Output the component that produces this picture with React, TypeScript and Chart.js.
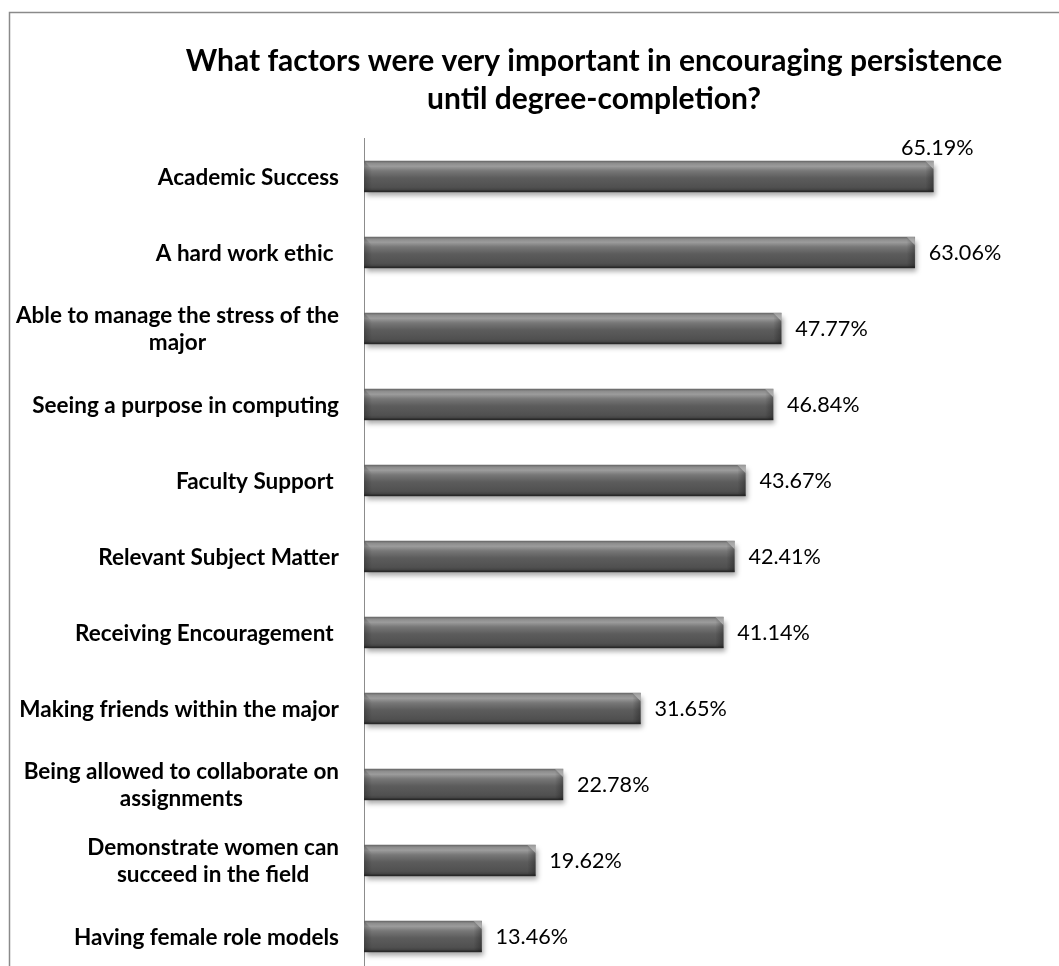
import React, { useEffect, useRef } from "react";
import { Chart, registerables } from "chart.js";

Chart.register(...registerables);

const TITLE_LINES = [
  "What factors were very important in encouraging persistence",
  "until degree-completion?",
];

const CATEGORIES: (string | string[])[] = [
  "Academic Success",
  "A hard work ethic ",
  ["Able to manage the stress of the", "major"],
  "Seeing a purpose in computing",
  "Faculty Support ",
  "Relevant Subject Matter",
  "Receiving Encouragement ",
  "Making friends within the major",
  ["Being allowed to collaborate on", "assignments"],
  ["Demonstrate women can", "succeed in the field"],
  "Having female role models",
];

const VALUES = [65.19, 63.06, 47.77, 46.84, 43.67, 42.41, 41.14, 31.65, 22.78, 19.62, 13.46];

const X_MAX = 75;

const FONT = "Lato, 'Open Sans', sans-serif";
const TITLE_SIZE = 30;
const LABEL_SIZE = 22.5;
const VALUE_SIZE = 21.6;
const BAR_H = 31;
const LABEL_RIGHT = 339;
const LINE_H = 26.5;

const framePlugin = {
  id: "frame",
  beforeDraw(chart: any) {
    const ctx = chart.ctx;
    ctx.save();
    ctx.fillStyle = "#ffffff";
    ctx.fillRect(0, 0, chart.width, chart.height);
    ctx.strokeStyle = "#8a8a8a";
    ctx.lineWidth = 1.5;
    ctx.strokeRect(9.5, 12.5, 3000, 3000);
    ctx.restore();
  },
};

const titlePlugin = {
  id: "titleText",
  afterDraw(chart: any) {
    const ctx = chart.ctx;
    ctx.save();
    ctx.font = `bold ${TITLE_SIZE}px ${FONT}`;
    ctx.fillStyle = "#000000";
    ctx.textAlign = "center";
    ctx.textBaseline = "alphabetic";
    TITLE_LINES.forEach((l, i) => {
      ctx.fillText(l, 594, 71 + i * 38);
    });
    ctx.restore();
  },
};

const shadowPlugin = {
  id: "barShadow",
  beforeDatasetsDraw(chart: any) {
    const ctx = chart.ctx;
    ctx.save();
    ctx.shadowColor = "rgba(0,0,0,0.35)";
    ctx.shadowBlur = 5;
    ctx.shadowOffsetX = 2;
    ctx.shadowOffsetY = 4;
  },
  afterDatasetsDraw(chart: any) {
    const ctx = chart.ctx;
    ctx.restore();
    const meta = chart.getDatasetMeta(0);
    const B = 8;
    ctx.save();
    meta.data.forEach((el: any) => {
      const p = el.getProps(["x", "y", "base", "height"], true);
      const left = Math.min(p.base, p.x);
      const right = Math.max(p.base, p.x);
      const top = p.y - p.height / 2;
      const bottom = p.y + p.height / 2;
      if (![left, right, top, bottom].every(Number.isFinite)) return;
      ctx.beginPath();
      ctx.moveTo(right - B, top);
      ctx.lineTo(right, top);
      ctx.lineTo(right, top + B);
      ctx.closePath();
      ctx.fillStyle = "rgba(190,190,190,0.55)";
      ctx.fill();
      const g = ctx.createLinearGradient(right - B, 0, right, 0);
      g.addColorStop(0, "rgba(0,0,0,0)");
      g.addColorStop(1, "rgba(0,0,0,0.28)");
      ctx.beginPath();
      ctx.moveTo(right - B, top);
      ctx.lineTo(right, top + B);
      ctx.lineTo(right, bottom);
      ctx.lineTo(right - B, bottom - 2);
      ctx.closePath();
      ctx.fillStyle = g;
      ctx.fill();
      ctx.beginPath();
      ctx.moveTo(left, top);
      ctx.lineTo(left + B, top + B);
      ctx.lineTo(left + B, bottom - 2);
      ctx.lineTo(left, bottom);
      ctx.closePath();
      const gl = ctx.createLinearGradient(left, 0, left + B, 0);
      gl.addColorStop(0, "rgba(0,0,0,0.22)");
      gl.addColorStop(1, "rgba(0,0,0,0)");
      ctx.fillStyle = gl;
      ctx.fill();
      ctx.fillStyle = "rgba(30,30,30,0.6)";
      ctx.fillRect(left, bottom - 1.5, right - left, 1.5);
    });
    ctx.restore();
  },
};

const labelsPlugin = {
  id: "textLabels",
  afterDraw(chart: any) {
    const ctx = chart.ctx;
    const ys = chart.scales.y;
    const area = chart.chartArea;
    ctx.save();
    ctx.fillStyle = "#000000";
    ctx.textBaseline = "alphabetic";
    ctx.font = `bold ${LABEL_SIZE}px ${FONT}`;
    ctx.textAlign = "center";
    const capL = LABEL_SIZE * 0.72;
    CATEGORIES.forEach((c, i) => {
      const lines = Array.isArray(c) ? c : [c];
      const w = Math.max(...lines.map((l) => ctx.measureText(l).width));
      const cx = LABEL_RIGHT - w / 2;
      const yc = ys.getPixelForValue(i);
      lines.forEach((l, j) => {
        const ly = yc + (j - (lines.length - 1) / 2) * LINE_H + capL / 2;
        ctx.fillText(l, cx, ly);
      });
    });
    ctx.font = `${VALUE_SIZE}px ${FONT}`;
    const capV = VALUE_SIZE * 0.72;
    const meta = chart.getDatasetMeta(0);
    meta.data.forEach((el: any, i: number) => {
      const p = el.getProps(["x", "y", "height"], true);
      const txt = VALUES[i].toFixed(2) + "%";
      const w = ctx.measureText(txt).width;
      if (p.x + 14 + w > area.right - 5) {
        ctx.textAlign = "center";
        ctx.fillText(txt, p.x + 4, p.y - p.height / 2 - 6);
      } else {
        ctx.textAlign = "left";
        ctx.fillText(txt, p.x + 14, p.y + capV / 2);
      }
    });
    ctx.restore();
  },
};

function barFill(c: any) {
  const ch = c.chart;
  const ys = ch.scales && ch.scales.y;
  if (!ys || c.dataIndex == null) return "#5c5c5c";
  const yc = ys.getPixelForValue(c.dataIndex);
  if (!Number.isFinite(yc)) return "#5c5c5c";
  const t = yc - BAR_H / 2;
  const b = yc + BAR_H / 2;
  const g = ch.ctx.createLinearGradient(0, t, 0, b);
  g.addColorStop(0, "#666666");
  g.addColorStop(0.07, "#8c8c8c");
  g.addColorStop(0.17, "#9c9c9c");
  g.addColorStop(0.32, "#777777");
  g.addColorStop(0.55, "#5c5c5c");
  g.addColorStop(0.85, "#505050");
  g.addColorStop(1, "#383838");
  return g;
}

export default function App() {
  const ref = useRef<HTMLCanvasElement | null>(null);

  useEffect(() => {
    if (!ref.current) return;
    const chart = new Chart(ref.current, {
      type: "bar",
      data: {
        labels: CATEGORIES as any,
        datasets: [
          {
            data: VALUES,
            borderWidth: 0,
            barThickness: BAR_H,
            backgroundColor: barFill,
          },
        ],
      },
      options: {
        indexAxis: "y",
        responsive: false,
        animation: false,
        layout: { padding: { left: 0, top: 138.5, right: 40, bottom: 25.5 } },
        plugins: {
          legend: { display: false },
          title: { display: false },
          tooltip: { enabled: false },
        },
        scales: {
          x: { display: false, min: 0, max: X_MAX },
          y: {
            grid: { display: false },
            border: { display: true, color: "#8c8c8c", width: 1 },
            ticks: { display: false },
            afterFit: (s: any) => {
              s.width = 364;
            },
          },
        },
      } as any,
      plugins: [framePlugin, shadowPlugin, labelsPlugin, titlePlugin],
    });
    chart.update();
    return () => chart.destroy();
  }, []);

  return (
    <div
      style={{
        position: "fixed",
        left: 0,
        top: 0,
        width: 1059,
        height: 966,
        overflow: "hidden",
        background: "#fff",
      }}
    >
      <canvas ref={ref} width={1059} height={1000} style={{ display: "block" }} />
    </div>
  );
}
